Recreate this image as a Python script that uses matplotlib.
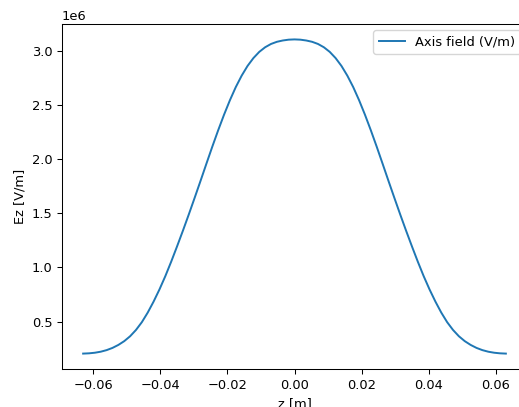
import numpy as np
import matplotlib
matplotlib.use("Agg")
import matplotlib.pyplot as plt

# on-axis field of the cavity (symmetric about z = 0), z in m, Ez in 1e6 V/m
z_half = np.linspace(0.0, 0.063, 37)
ez_half = [3.105, 3.1026, 3.095, 3.0829, 3.063, 3.0326, 2.99, 2.9326, 2.86, 2.7703,
           2.665, 2.5438, 2.41, 2.2663, 2.115, 1.9584, 1.80, 1.6438, 1.49, 1.3403,
           1.195, 1.0538, 0.92, 0.7972, 0.685, 0.5834, 0.495, 0.4231, 0.365, 0.3199,
           0.285, 0.2575, 0.237, 0.2225, 0.213, 0.2075, 0.205]

z = np.concatenate([-z_half[:0:-1], z_half])
ez = np.concatenate([np.array(ez_half[:0:-1]), np.array(ez_half)]) * 1e6

s = 0.9375
plt.rcParams["font.size"] = 10 * s
plt.rcParams["axes.linewidth"] = 0.8 * s
plt.rcParams["xtick.major.size"] = 3.5 * s
plt.rcParams["ytick.major.size"] = 3.5 * s
plt.rcParams["xtick.major.width"] = 0.8 * s
plt.rcParams["ytick.major.width"] = 0.8 * s

fig = plt.figure(figsize=(5.19, 4.07), dpi=100)
ax = fig.add_axes([62 / 519, (407 - 369.3) / 407, 465 / 519, 345.6 / 407])
ax.plot(z, ez, lw=1.5 * s, label="Axis field (V/m)")
ax.set_xlabel("z [m]")
ax.set_ylabel("Ez [V/m]")
ax.legend(loc="upper right")

fig.savefig("out.png", dpi=100)
